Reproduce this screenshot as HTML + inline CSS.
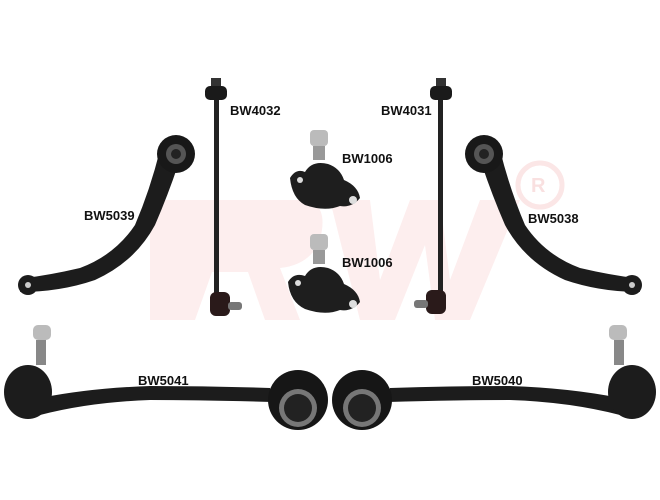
<!DOCTYPE html>
<html><head><style>
body{margin:0;background:#fff;}
svg{display:block;font-family:"Liberation Sans",sans-serif;}
text{font-weight:bold;font-size:13px;fill:#111;}
</style></head><body>
<svg width="660" height="500" viewBox="0 0 660 500">
<g fill="#fdeeee">
<path d="M150 200 L300 200 Q330 200 320 240 Q310 265 280 268 L300 320 L265 320 L248 272 L212 272 L195 320 L150 320 Z"/>
<path d="M330 200 L370 200 L380 280 L410 200 L440 200 L450 280 L480 200 L520 200 L470 320 L435 320 L425 245 L395 320 L360 320 Z"/>
</g>
<circle cx="540" cy="185" r="22" fill="none" stroke="#fbe6e6" stroke-width="5"/>
<text x="531" y="192" style="font-size:20px;fill:#f9e0e0">R</text>

<g>
<rect x="214" y="88" width="5" height="210" fill="#222"/>
<rect x="211" y="78" width="10" height="10" fill="#333"/>
<rect x="205" y="86" width="22" height="14" rx="5" fill="#1a1a1a"/>
<rect x="210" y="292" width="20" height="24" rx="6" fill="#2a1a1a"/>
<rect x="228" y="302" width="14" height="8" rx="3" fill="#777"/>
</g>
<g>
<rect x="438" y="88" width="5" height="210" fill="#222"/>
<rect x="436" y="78" width="10" height="10" fill="#333"/>
<rect x="430" y="86" width="22" height="14" rx="5" fill="#1a1a1a"/>
<rect x="426" y="290" width="20" height="24" rx="6" fill="#2a1a1a"/>
<rect x="414" y="300" width="14" height="8" rx="3" fill="#777"/>
</g>

<g>
<rect x="310" y="130" width="18" height="16" rx="4" fill="#bbb"/>
<rect x="313" y="146" width="12" height="14" fill="#999"/>
<path d="M290 178 Q296 168 305 172 Q312 160 328 164 Q340 168 344 180 Q358 186 360 198 Q352 208 340 206 Q325 212 305 205 Q292 198 290 178Z" fill="#1e1e1e"/>
<circle cx="300" cy="180" r="3" fill="#ddd"/><circle cx="353" cy="200" r="4" fill="#ddd"/>
</g>
<g>
<rect x="310" y="234" width="18" height="16" rx="4" fill="#bbb"/>
<rect x="313" y="250" width="12" height="14" fill="#999"/>
<path d="M288 282 Q294 272 305 276 Q312 264 328 268 Q340 272 344 284 Q358 290 360 302 Q352 312 340 310 Q325 316 305 309 Q290 302 288 282Z" fill="#1e1e1e"/>
<circle cx="298" cy="283" r="3" fill="#ddd"/><circle cx="353" cy="304" r="4" fill="#ddd"/>
</g>

<g>
<path d="M160 150 Q150 190 135 225 Q115 255 80 268 Q50 275 25 278 L20 292 Q60 292 95 280 Q135 262 155 225 Q168 195 178 165Z" fill="#1c1c1c"/>
<circle cx="176" cy="154" r="19" fill="#181818"/>
<circle cx="176" cy="154" r="10" fill="#555"/>
<circle cx="176" cy="154" r="5" fill="#222"/>
<circle cx="28" cy="285" r="10" fill="#1c1c1c"/><circle cx="28" cy="285" r="3" fill="#ccc"/>
</g>
<g>
<path d="M500 150 Q510 190 525 225 Q545 255 580 268 Q610 275 635 278 L640 292 Q600 292 565 280 Q525 262 505 225 Q492 195 482 165Z" fill="#1c1c1c"/>
<circle cx="484" cy="154" r="19" fill="#181818"/>
<circle cx="484" cy="154" r="10" fill="#555"/>
<circle cx="484" cy="154" r="5" fill="#222"/>
<circle cx="632" cy="285" r="10" fill="#1c1c1c"/><circle cx="632" cy="285" r="3" fill="#ccc"/>
</g>

<g>
<rect x="33" y="325" width="18" height="15" rx="5" fill="#bbb"/>
<rect x="36" y="340" width="10" height="25" fill="#888"/>
<path d="M40 398 Q90 388 150 386 Q210 386 270 388 L272 402 Q200 400 150 400 Q90 402 40 415Z" fill="#1c1c1c"/>
<ellipse cx="28" cy="392" rx="24" ry="27" fill="#1c1c1c"/>
<circle cx="298" cy="400" r="30" fill="#161616"/>
<circle cx="298" cy="408" r="19" fill="#777"/>
<circle cx="298" cy="408" r="14" fill="#222"/>
</g>
<g>
<rect x="609" y="325" width="18" height="15" rx="5" fill="#bbb"/>
<rect x="614" y="340" width="10" height="25" fill="#888"/>
<path d="M620 398 Q570 388 510 386 Q450 386 390 388 L388 402 Q460 400 510 400 Q570 402 620 415Z" fill="#1c1c1c"/>
<ellipse cx="632" cy="392" rx="24" ry="27" fill="#1c1c1c"/>
<circle cx="362" cy="400" r="30" fill="#161616"/>
<circle cx="362" cy="408" r="19" fill="#777"/>
<circle cx="362" cy="408" r="14" fill="#222"/>
</g>

<text x="230" y="115">BW4032</text>
<text x="381" y="115">BW4031</text>
<text x="342" y="163">BW1006</text>
<text x="342" y="267">BW1006</text>
<text x="84" y="220">BW5039</text>
<text x="528" y="223">BW5038</text>
<text x="138" y="385">BW5041</text>
<text x="472" y="385">BW5040</text>
</svg>
</body></html>
